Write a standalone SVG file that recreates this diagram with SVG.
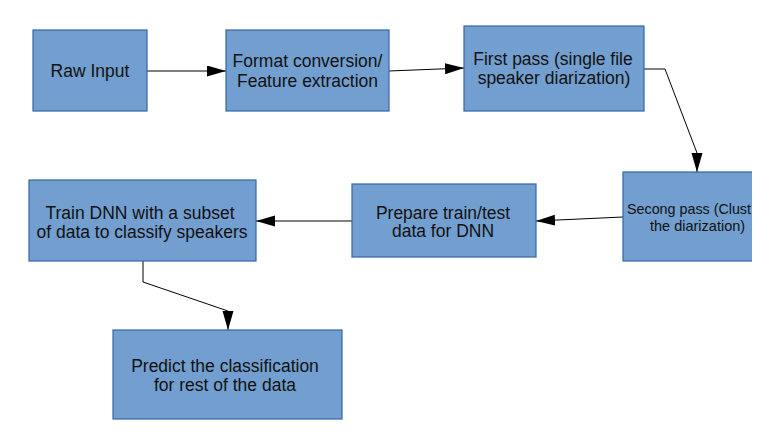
<svg xmlns="http://www.w3.org/2000/svg" width="779" height="446" viewBox="0 0 779 446">
<style>
.box{fill:#729fcf;stroke:#3465a4;stroke-width:1.2}
.t{font-family:"Liberation Sans",Arial,sans-serif;font-size:17.5px;fill:#111;text-anchor:middle}
.ts{font-family:"Liberation Sans",Arial,sans-serif;font-size:14.5px;fill:#111}
.c{fill:none;stroke:#000;stroke-width:1}
</style>
<defs>
<marker id="arr" markerUnits="userSpaceOnUse" markerWidth="20" markerHeight="12" refX="19" refY="5.5" orient="auto">
<path d="M0,0 L19,5.5 L0,11 z" fill="#000"/>
</marker>
<clipPath id="crop"><rect x="0" y="0" width="752" height="446"/></clipPath>
</defs>
<rect width="779" height="446" fill="#fff"/>
<g id="connectors">
<path class="c" d="M147,71 L226,71" marker-end="url(#arr)"/>
<path class="c" d="M389,71 L464,68" marker-end="url(#arr)"/>
<path class="c" d="M644,69 L665,69 L697,153 L697,172" marker-end="url(#arr)"/>
<path class="c" d="M623,217 L536,221" marker-end="url(#arr)"/>
<path class="c" d="M352,221 L256,221" marker-end="url(#arr)"/>
<path class="c" d="M143,261 L143,282 L228,311 L228,330" marker-end="url(#arr)"/>
</g>
<g id="raw-input">
<rect class="box" x="33" y="30" width="114" height="81"/>
<text class="t" x="90" y="77">Raw Input</text>
</g>
<g id="format-conversion">
<rect class="box" x="226" y="30" width="163" height="81"/>
<text class="t" x="307.5" y="66.5">Format conversion/</text>
<text class="t" x="307.5" y="86.5">Feature extraction</text>
</g>
<g id="first-pass">
<rect class="box" x="464" y="26" width="180" height="85"/>
<text class="t" x="553" y="64.5">First pass (single file</text>
<text class="t" x="554" y="83.5">speaker diarization)</text>
</g>
<g id="second-pass">
<rect class="box" x="623" y="172" width="200" height="89" clip-path="url(#crop)"/>
<text class="ts" x="627" y="214" textLength="124" lengthAdjust="spacingAndGlyphs">Secong pass (Clust</text>
<text class="ts" x="650" y="231">the diarization)</text>
</g>
<g id="prepare">
<rect class="box" x="352" y="184" width="184" height="73"/>
<text class="t" x="443" y="218.5">Prepare train/test</text>
<text class="t" x="443" y="237">data for DNN</text>
</g>
<g id="train-dnn">
<rect class="box" x="29" y="180" width="227" height="81"/>
<text class="t" x="140" y="218.5">Train DNN with a subset</text>
<text class="t" x="142" y="237.5">of data to classify speakers</text>
</g>
<g id="predict">
<rect class="box" x="113" y="330" width="229" height="89"/>
<text class="t" x="225" y="371.5">Predict the classification</text>
<text class="t" x="225" y="390.5">for rest of the data</text>
</g>
</svg>
